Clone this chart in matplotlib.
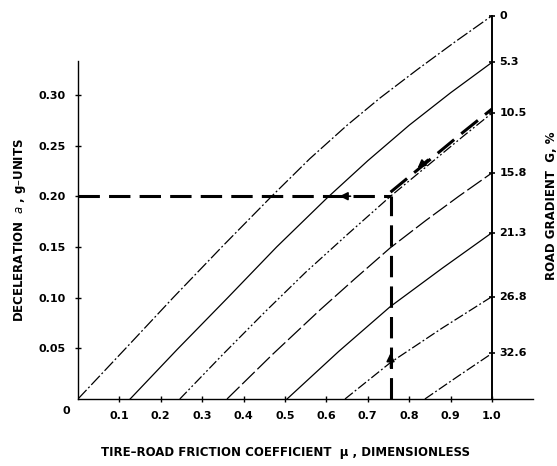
import matplotlib.pyplot as plt
import numpy as np

# Road gradient G (%) for each curve, labels on the right scale
grades = ["0", "5.3", "10.5", "15.8", "21.3", "26.8", "32.6"]

# points: tire-road friction mu -> deceleration a (g)
mu_g0 = [0.0, 0.12, 0.23, 0.35, 0.468, 0.56, 0.65, 0.73, 0.82, 0.91, 1.0]
a_g0 = [0.0, 0.052, 0.100, 0.151, 0.200, 0.237, 0.270, 0.297, 0.325, 0.352, 0.378]
mu_g5 = [0.126, 0.24, 0.362, 0.48, 0.601, 0.70, 0.80, 0.90, 1.0]
a_g5 = [0.0, 0.049, 0.100, 0.150, 0.198, 0.235, 0.270, 0.302, 0.332]
mu_g10 = [0.246, 0.35, 0.452, 0.55, 0.65, 0.755, 0.85, 0.93, 1.0]
a_g10 = [0.0, 0.044, 0.086, 0.125, 0.162, 0.200, 0.232, 0.259, 0.282]
mu_g16 = [0.36, 0.47, 0.585, 0.67, 0.754, 0.84, 0.92, 1.0]
a_g16 = [0.0, 0.044, 0.088, 0.119, 0.149, 0.176, 0.200, 0.223]
mu_g21 = [0.505, 0.63, 0.754, 0.88, 1.0]
a_g21 = [0.0, 0.047, 0.091, 0.129, 0.164]
mu_g27 = [0.645, 0.755, 0.88, 1.0]
a_g27 = [0.0, 0.036, 0.070, 0.101]
mu_g33 = [0.838, 0.92, 1.0]
a_g33 = [0.0, 0.023, 0.045]

curves_mu = [mu_g0, mu_g5, mu_g10, mu_g16, mu_g21, mu_g27, mu_g33]
curves_a = [a_g0, a_g5, a_g10, a_g16, a_g21, a_g27, a_g33]

# worked example: mu = 0.755 on G = 10.5 % gives a = 0.20
ex_mu = 0.755
ex_a = 0.20

xticks = [0.1, 0.2, 0.3, 0.4, 0.5, 0.6, 0.7, 0.8, 0.9, 1.0]
yticks = [0.05, 0.10, 0.15, 0.20, 0.25, 0.30]

styles = [(0, (10, 2, 1.5, 2)), "-", (0, (8, 2, 1.5, 2, 1.5, 2)), (0, (14, 3)),
          "-", (0, (8, 2, 1.5, 2)), (0, (8, 2, 1.5, 2))]

font = ["Liberation Sans Narrow", "DejaVu Sans"]
plt.rcParams["font.family"] = font

fig = plt.figure(figsize=(5.57, 4.66), dpi=100)
ax = fig.add_axes([0.140, 0.1438, 0.8176, 0.8268])
ax.set_xlim(0, 1.1)
ax.set_ylim(0, 0.38)

# family of gradient curves
for m, a, ls in zip(curves_mu, curves_a, styles):
    ax.plot(m, a, color="black", lw=0.9, linestyle=ls)

# right-hand gradient scale
ends = [c[-1] for c in curves_a]
ax.plot([1.0, 1.0], [0, max(ends)], color="black", lw=1.4)
ax.plot([1.0] * len(ends), ends, linestyle="none", marker="_", color="black", ms=5, mew=1.2)
for g, a in zip(grades, ends):
    ax.text(1.018, a, g, fontsize=8, fontweight="bold", va="center", ha="left")

# example path (thick dashes)
dash = dict(color="black", lw=2.2, dashes=(7, 3))
ax.plot([ex_mu, ex_mu], [0, ex_a], **dash)
ax.plot([0, ex_mu], [ex_a, ex_a], **dash)
seg = [i for i, m in enumerate(mu_g10) if m >= ex_mu]
ax.plot([mu_g10[i] for i in seg], [a_g10[i] + 0.004 for i in seg], **dash)

arrow = dict(arrowstyle="-|>", color="black", lw=1.2, mutation_scale=12)
ax.annotate("", xy=(ex_mu, 0.048), xytext=(ex_mu, 0.028), arrowprops=arrow)
ax.annotate("", xy=(0.625, ex_a), xytext=(0.665, ex_a), arrowprops=arrow)
ax.annotate("", xy=(0.815, 0.226), xytext=(0.85, 0.238), arrowprops=arrow)

# axes styling
for s in ["top", "right"]:
    ax.spines[s].set_visible(False)
ax.spines["left"].set_bounds(0, 0.333)
ax.spines["left"].set_linewidth(1.0)
ax.spines["bottom"].set_linewidth(1.0)
ax.set_xticks(xticks)
ax.set_xticklabels([f"{v:.1f}" for v in xticks], fontsize=8, fontweight="bold")
ax.set_yticks(yticks)
ax.set_yticklabels([f"{v:.2f}" for v in yticks], fontsize=8, fontweight="bold")
ax.tick_params(direction="inout", length=4, width=1, pad=7)
ax.text(-0.018, -0.012, "0", fontsize=8, fontweight="bold", ha="right", va="center")

fig.text(0.512, 0.030, "TIRE\u2013ROAD FRICTION COEFFICIENT  \u03bc , DIMENSIONLESS",
         fontsize=8.5, fontweight="bold", ha="center", va="center")
fig.text(0.036, 0.506, "DECELERATION  $\\mathit{a}$ , g\u2013UNITS", rotation=90,
         fontsize=8.5, fontweight="bold", ha="center", va="center")
fig.text(0.991, 0.558, "ROAD GRADIENT  G, %", rotation=90,
         fontsize=8.5, fontweight="bold", ha="center", va="center")

fig.savefig("out.png", dpi=100)
